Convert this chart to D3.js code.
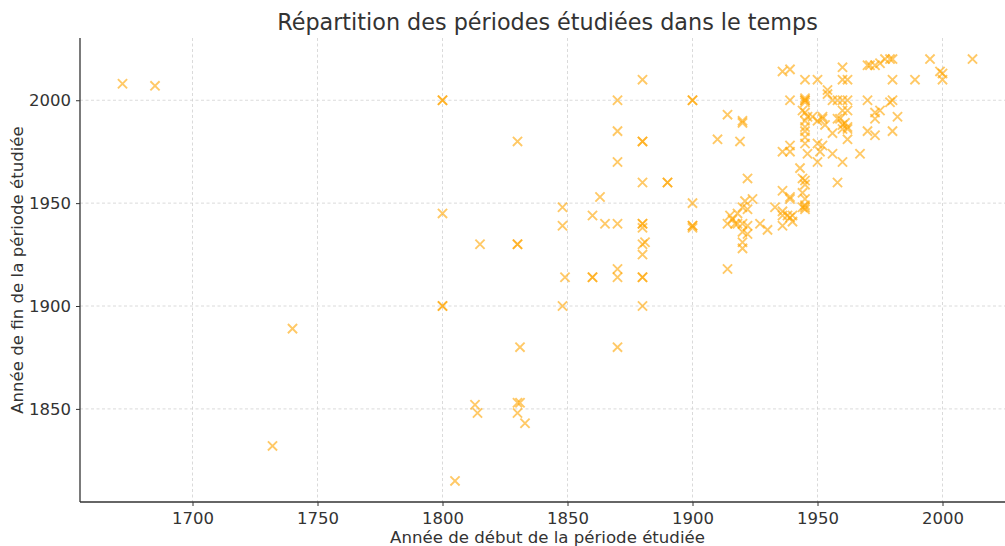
<!DOCTYPE html>
<html>
<head>
<meta charset="utf-8">
<script src="https://cdn.jsdelivr.net/npm/d3@7"></script>
<style>
  body { margin: 0; background: #fff; }
  text { font-family: "DejaVu Sans", sans-serif; fill: #333; }
</style>
</head>
<body>
<div id="chart"></div>
<script>
// start year / end year of each studied period
var startYears = [1672, 1685, 1732, 1740, 1800, 1800, 1800, 1800, 1800, 1805, 1815, 1813, 1814,
  1830, 1830, 1830, 1831, 1830, 1831, 1830, 1833,
  1848, 1848, 1848, 1849, 1860, 1860, 1860, 1863, 1865,
  1870, 1870, 1870, 1870, 1870, 1870, 1870,
  1880, 1880, 1880, 1880, 1880, 1880, 1880, 1881, 1880, 1880, 1880, 1880, 1880,
  1890, 1890, 1900, 1900, 1900, 1900, 1900, 1900,
  1910, 1914, 1920, 1920, 1919,
  1922, 1924, 1921, 1920, 1922, 1915, 1918, 1916, 1918, 1920, 1917, 1914, 1922, 1922, 1920, 1927, 1930, 1920, 1920, 1914,
  1933, 1936, 1936, 1938, 1939, 1940, 1940, 1936, 1936, 1939, 1939, 1944,
  1943, 1944, 1945, 1945, 1945, 1945, 1944, 1945, 1945,
  1936, 1939, 1939, 1936, 1939, 1939,
  1945, 1945, 1945, 1945, 1945, 1944, 1945, 1946, 1948, 1945, 1945, 1945, 1945, 1945, 1946,
  1950, 1954, 1954, 1956, 1958, 1962, 1960, 1970,
  1950, 1952, 1952, 1953, 1950, 1952, 1951, 1956, 1956, 1950, 1960, 1958, 1967,
  1960, 1962, 1959, 1961, 1962, 1960, 1962, 1960, 1962, 1958,
  1960, 1960, 1962, 1970, 1971, 1973, 1975, 1977, 1979, 1980, 1995, 2012, 1999, 2000, 2000,
  1980, 1989, 1980, 1979, 1975, 1973, 1973, 1982, 1970, 1973, 1980];
var endYears = [2008, 2007, 1832, 1889, 2000, 2000, 1945, 1900, 1900, 1815, 1930, 1852, 1848,
  1980, 1930, 1930, 1880, 1853, 1853, 1848, 1843,
  1900, 1948, 1939, 1914, 1944, 1914, 1914, 1953, 1940,
  1940, 2000, 1985, 1970, 1918, 1914, 1880,
  2010, 1980, 1980, 1960, 1940, 1940, 1938, 1931, 1930, 1925, 1914, 1914, 1900,
  1960, 1960, 2000, 2000, 1950, 1939, 1939, 1938,
  1981, 1993, 1990, 1989, 1980,
  1962, 1952, 1951, 1948, 1947, 1944, 1945, 1942, 1940, 1940, 1940, 1940, 1939, 1935, 1936, 1940, 1937, 1931, 1928, 1918,
  1948, 1946, 1944, 1944, 1943, 1944, 1941, 1939, 1956, 1953, 1952, 1955,
  1967, 1962, 1961, 1959, 1952, 1949, 1948, 1947, 1948,
  1975, 1975, 1978, 2014, 2015, 2000,
  2010, 2001, 1999, 2000, 2000, 1995, 1994, 1992, 1992, 1990, 1987, 1985, 1982, 1979, 1974,
  2010, 2005, 2003, 2000, 2000, 2000, 2000, 2000,
  1990, 1992, 1991, 1988, 1979, 1978, 1975, 1974, 1984, 1970, 1970, 1960, 1974,
  1995, 1995, 1991, 1989, 1987, 1988, 1986, 1986, 1981, 1991,
  2016, 2010, 2010, 2017, 2017, 2017, 2018, 2020, 2020, 2020, 2020, 2020, 2014, 2013, 2010,
  2010, 2010, 2000, 1999, 1995, 1994, 1991, 1992, 1985, 1983, 1985];
var xTicks = [1700, 1750, 1800, 1850, 1900, 1950, 2000];
var yTicks = [1850, 1900, 1950, 2000];

var titleText = "Répartition des périodes étudiées dans le temps";
var xLabel = "Année de début de la période étudiée";
var yLabel = "Année de fin de la période étudiée";

function drawChart(){
  var W = 1005, H = 546;
  var left = 80, top = 38, right = 1015, bottom = 502;

  var svg = d3.select("#chart").append("svg")
      .attr("width", W)
      .attr("height", H);

  var x = d3.scaleLinear().domain([1655, 2029]).range([left, right]);
  var y = d3.scaleLinear().domain([1804.75, 2030.25]).range([bottom, top]);

  // grid
  svg.append("g").selectAll("line").data(xTicks).join("line")
    .attr("x1", function(d){ return x(d); }).attr("x2", function(d){ return x(d); })
    .attr("y1", top).attr("y2", bottom)
    .attr("stroke", "#d0d0d0").attr("stroke-width", 0.8).attr("stroke-dasharray", "3,2.5");
  svg.append("g").selectAll("line").data(yTicks).join("line")
    .attr("x1", left).attr("x2", right)
    .attr("y1", function(d){ return y(d); }).attr("y2", function(d){ return y(d); })
    .attr("stroke", "#d0d0d0").attr("stroke-width", 0.8).attr("stroke-dasharray", "3,2.5");

  // axes
  var xAxis = svg.append("g")
    .attr("transform", "translate(0," + bottom + ")")
    .call(d3.axisBottom(x).tickValues(xTicks).tickFormat(d3.format("d")).tickSize(4).tickPadding(6));
  var yAxis = svg.append("g")
    .attr("transform", "translate(" + left + ",0)")
    .call(d3.axisLeft(y).tickValues(yTicks).tickFormat(d3.format("d")).tickSize(4).tickPadding(5));
  [xAxis, yAxis].forEach(function(a){
    a.select(".domain").attr("stroke", "#333").attr("stroke-width", 1.3);
    a.selectAll(".tick line").attr("stroke", "#333").attr("stroke-width", 1);
    a.selectAll(".tick text").style("font-family", "DejaVu Sans, sans-serif")
      .style("font-size", "16.5px").attr("fill", "#333");
  });
  // only left and bottom spines
  xAxis.select(".domain").attr("d", "M" + left + ",0H" + right);
  yAxis.select(".domain").attr("d", "M0," + top + "V" + bottom);

  // points as x markers
  var pts = startYears.map(function(s, i){ return [s, endYears[i]]; });
  var r = 4.6;
  svg.append("g").selectAll("path").data(pts).join("path")
    .attr("d", function(d){
      var cx = x(d[0]), cy = y(d[1]);
      return "M" + (cx - r) + "," + (cy - r) + "L" + (cx + r) + "," + (cy + r)
           + "M" + (cx - r) + "," + (cy + r) + "L" + (cx + r) + "," + (cy - r);
    })
    .attr("stroke", "orange").attr("stroke-opacity", 0.6)
    .attr("stroke-width", 1.9).attr("fill", "none");

  // title and labels
  svg.append("text").attr("x", (left + right) / 2).attr("y", 30)
    .attr("text-anchor", "middle").style("font-size", "22.3px").attr("fill", "#444")
    .text(titleText);
  svg.append("text").attr("x", (left + right) / 2).attr("y", 543)
    .attr("text-anchor", "middle").style("font-size", "16.6px").attr("fill", "#333")
    .text(xLabel);
  svg.append("text").attr("transform", "translate(23," + ((top + bottom) / 2) + ") rotate(-90)")
    .attr("text-anchor", "middle").style("font-size", "16.6px").attr("fill", "#333")
    .text(yLabel);
}

drawChart();
</script>
</body>
</html>
